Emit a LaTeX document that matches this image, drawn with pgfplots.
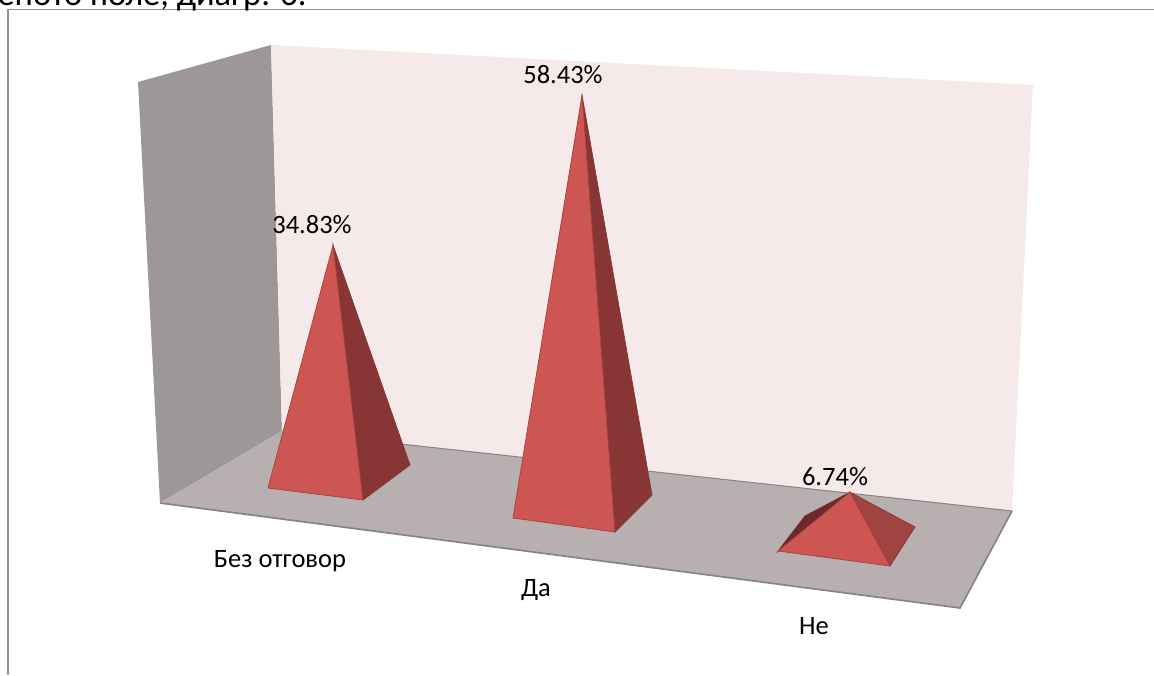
\documentclass[border=0pt]{standalone}
\usepackage{pgfplots}
\pgfplotsset{compat=1.18}
\usepackage{pgfplotstable}
\usepackage{fontspec}
\setmainfont{Carlito}

% Scale and lean of the verticals at each pyramid: screen position = base + value * (lean, -rise)
\pgfplotstableread{
px py val
268 488 0
363 500 0
339 476 34.83
}\onefront
\pgfplotstableread{
px py val
363 500 0
410 465 0
339 476 34.83
}\oneside
\pgfplotstableread{
px py val
513 518 0
615 532 0
582 507 58.43
}\twofront
\pgfplotstableread{
px py val
615 532 0
652 495 0
582 507 58.43
}\twoside
\pgfplotstableread{
px py val
778 551 0
890 566 0
848 540 6.74
}\threefront
\pgfplotstableread{
px py val
890 566 0
915 527 0
848 540 6.74
}\threeside
\pgfplotstableread{
px py val
778 551 0
805 516 0
848 540 6.74
}\threeback

\definecolor{wallside}{HTML}{9D9897}
\definecolor{wallback}{HTML}{F5E9E9}
\definecolor{floorfill}{HTML}{B8B0B0}
\definecolor{flooredge}{HTML}{868484}
\definecolor{pyrfront}{HTML}{CD5652}
\definecolor{pyrside}{HTML}{873535}
\definecolor{pyrsidelight}{HTML}{A04442}
\definecolor{pyrback}{HTML}{6E2A2A}
\definecolor{pyredge}{HTML}{A33F3D}

\newcommand{\face}[5]{% table, fill colour, rise per percent, lean per percent, edge
  \addplot[fill=#2, draw=#5, line width=0.7pt] table[
    x expr=\thisrow{px}+\thisrow{val}*#4,
    y expr=\thisrow{py}-\thisrow{val}*#3] {#1} -- cycle;
}

\begin{document}
\begin{tikzpicture}
\begin{axis}[
  scale only axis, width=1154pt, height=675pt,
  xmin=0, xmax=1154, ymin=0, ymax=675, y dir=reverse,
  hide axis, clip=true,
  nodes={font=\fontsize{26.5}{30}\selectfont, text=black},
]
% chart frame
\addplot[draw=gray!85, line width=1.5pt] coordinates {(8,675) (8,9.5) (1154,9.5)};
% walls and floor
\addplot[fill=wallside, draw=none] coordinates {(138,82) (271,45) (282,431) (160,503)} -- cycle;
\addplot[fill=wallback, draw=none] coordinates {(271,45) (1033,85) (1012,511) (282,431)} -- cycle;
\addplot[fill=floorfill, draw=none] coordinates {(160,503) (282,431) (1012,511) (960,608)} -- cycle;
\addplot[draw=flooredge, line width=1.7pt] coordinates {(160,503) (960,608) (1012,511)};
\addplot[draw=flooredge, line width=1pt] coordinates {(282,431) (1012,511)};
% first pyramid
\face{\oneside}{pyrside}{6.63}{-0.172}{pyrside}
\face{\onefront}{pyrfront}{6.63}{-0.172}{pyredge}
% second pyramid
\face{\twoside}{pyrside}{7.05}{0}{pyrside}
\face{\twofront}{pyrfront}{7.05}{0}{pyredge}
% third pyramid
\face{\threeback}{pyrback}{7.1}{0.3}{pyrback}
\face{\threeside}{pyrsidelight}{7.1}{0.3}{pyrside}
\face{\threefront}{pyrfront}{7.1}{0.3}{pyredge}
% value and category labels
\node at (axis cs:312,225) {34.83\%};
\node at (axis cs:563,75) {58.43\%};
\node at (axis cs:835,477) {6.74\%};
\node at (axis cs:280,561) {Без отговор};
\node at (axis cs:536,590) {Да};
\node at (axis cs:814,626) {Не};
% caption line running off the top edge
\node[font=\fontsize{34.5}{38}\selectfont, anchor=base west] at (axis cs:-6,5) {еното поле, диагр. 6.};
\end{axis}
\end{tikzpicture}
\end{document}
